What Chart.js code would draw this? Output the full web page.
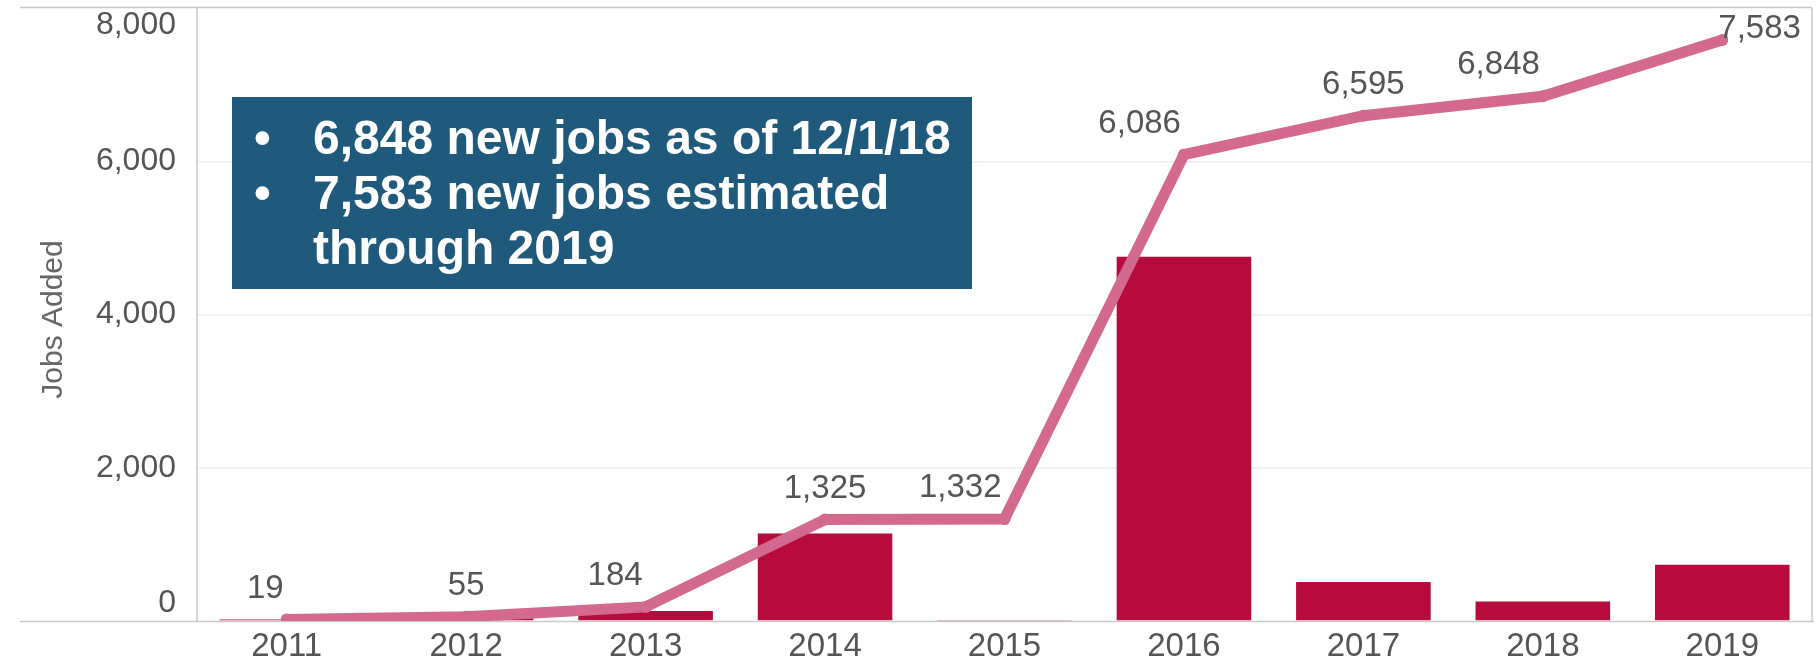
<!DOCTYPE html>
<html>
<head>
<meta charset="utf-8">
<script src="https://cdn.jsdelivr.net/npm/chart.js@4"></script>
<style>
  html, body { margin: 0; padding: 0; background: #ffffff; }
  #wrap { width: 1819px; height: 661px; position: relative; }
</style>
</head>
<body>
<div id="wrap"><canvas id="c" width="1819" height="661"></canvas></div>
<script>
// ---- Data ----
const years = ['2011', '2012', '2013', '2014', '2015', '2016', '2017', '2018', '2019'];
const cumulativeJobs = [19, 55, 184, 1325, 1332, 6086, 6595, 6848, 7583];
const jobsAddedPerYear = [19, 36, 129, 1141, 7, 4754, 509, 253, 735];
const yTicks = [0, 2000, 4000, 6000, 8000];
const axisTitle = 'Jobs Added';
const noteLines = [
  { bullet: true, text: '6,848 new jobs as of 12/1/18' },
  { bullet: true, text: '7,583 new jobs estimated' },
  { bullet: false, text: 'through 2019' }
];

// ---- Style ----
const BAR_COLOR = '#b70a3d';
const LINE_COLOR = '#d3698f';
const TEXT_COLOR = '#555555';
const AXIS_COLOR = '#c9c9c9';
const GRID_COLOR = '#eeeeee';
const BOX_COLOR = '#1f5a7c';
const FONT = '"Liberation Sans", Arial, Helvetica, sans-serif';
// label placement style (Tableau-like, avoid line)
const labelAlign = ['right', 'center', 'right', 'center', 'right', 'right', 'center', 'right', 'left'];

const fmt = v => v.toLocaleString('en-US');

const decorPlugin = {
  id: 'decor',
  beforeDatasetsDraw(chart) {
    const ctx = chart.ctx;
    const a = chart.chartArea;
    ctx.save();
    ctx.strokeStyle = AXIS_COLOR;
    ctx.lineWidth = 1.5;
    ctx.beginPath();
    ctx.moveTo(20, a.top - 0.5);
    ctx.lineTo(a.right, a.top - 0.5);
    ctx.stroke();
    ctx.beginPath();
    ctx.moveTo(20, a.bottom + 0.5);
    ctx.lineTo(a.right + 2, a.bottom + 0.5);
    ctx.stroke();
    ctx.beginPath();
    ctx.moveTo(a.right, a.top - 0.5);
    ctx.lineTo(a.right, a.bottom + 0.5);
    ctx.stroke();
    ctx.beginPath();
    ctx.moveTo(a.left, a.top - 0.5);
    ctx.lineTo(a.left, a.bottom + 0.5);
    ctx.stroke();

    // y tick labels
    const ys = chart.scales.y;
    ctx.fillStyle = TEXT_COLOR;
    ctx.font = '32px ' + FONT;
    ctx.textAlign = 'right';
    ctx.textBaseline = 'middle';
    yTicks.forEach((t, i) => {
      let y = ys.getPixelForValue(t);
      if (i === 0) y -= 18;
      if (i === yTicks.length - 1) y += 17;
      ctx.fillText(fmt(t), a.left - 21, y);
    });

    // y title
    ctx.save();
    ctx.translate(54, (a.top + a.bottom) / 2 + 5);
    ctx.rotate(-Math.PI / 2);
    ctx.fillStyle = '#666666';
    ctx.font = '30px ' + FONT;
    ctx.textAlign = 'center';
    ctx.textBaseline = 'middle';
    ctx.fillText(axisTitle, 0, 0);
    ctx.restore();
    ctx.restore();
  },
  afterDatasetsDraw(chart) {
    const ctx = chart.ctx;
    const a = chart.chartArea;
    const meta = chart.getDatasetMeta(0);
    ctx.save();
    ctx.fillStyle = TEXT_COLOR;
    ctx.font = '33px ' + FONT;
    ctx.textBaseline = 'middle';
    meta.data.forEach((pt, i) => {
      const al = labelAlign[i];
      let x = pt.x;
      if (al === 'right') x = pt.x - 3;
      if (al === 'left') x = pt.x - 4;
      const y = Math.max(pt.y - 31, a.top + 21);
      ctx.textAlign = al;
      ctx.fillText(fmt(cumulativeJobs[i]), x, y);
    });

    // annotation box
    const bx = a.left + 35, by = 97, bw = 740, bh = 192;
    ctx.fillStyle = BOX_COLOR;
    ctx.fillRect(bx, by, bw, bh);
    ctx.fillStyle = '#ffffff';
    ctx.font = 'bold 48px ' + FONT;
    ctx.textAlign = 'left';
    ctx.textBaseline = 'middle';
    noteLines.forEach((ln, i) => {
      const y = by + 44 + i * 55;
      if (ln.bullet) ctx.fillText('\u2022', bx + 22, y);
      ctx.fillText(ln.text, bx + 81, y);
    });
    ctx.restore();
  }
};

new Chart(document.getElementById('c'), {
  data: {
    labels: years,
    datasets: [
      {
        type: 'line',
        label: 'Cumulative jobs',
        data: cumulativeJobs,
        borderColor: LINE_COLOR,
        backgroundColor: LINE_COLOR,
        borderWidth: 11,
        pointRadius: 6,
        pointBackgroundColor: LINE_COLOR,
        pointBorderWidth: 0,
        tension: 0,
        order: 0
      },
      {
        type: 'bar',
        label: 'Jobs added',
        data: jobsAddedPerYear,
        backgroundColor: BAR_COLOR,
        borderWidth: 0,
        categoryPercentage: 1.0,
        barPercentage: 0.75,
        order: 1
      }
    ]
  },
  options: {
    responsive: false,
    animation: false,
    devicePixelRatio: 1,
    layout: { padding: { left: 197, right: 7, top: 8, bottom: 0 } },
    plugins: { legend: { display: false }, tooltip: { enabled: false } },
    scales: {
      x: {
        grid: { display: false, drawTicks: false },
        border: { display: false },
        ticks: { color: TEXT_COLOR, font: { size: 33, family: FONT }, padding: 6, maxRotation: 0 },
        afterFit: s => { s.height = 40; }
      },
      y: {
        min: 0,
        max: 8000,
        afterBuildTicks: s => { s.ticks = yTicks.map(v => ({ value: v })); },
        grid: { color: ctx => (ctx.tick && (ctx.tick.value === 0 || ctx.tick.value === 8000)) ? 'rgba(0,0,0,0)' : GRID_COLOR, lineWidth: 1.5, drawTicks: false },
        border: { display: false },
        ticks: { display: false },
        afterFit: s => { s.height = s.height; s.width = 0; }
      }
    }
  },
  plugins: [decorPlugin]
});
</script>
</body>
</html>
